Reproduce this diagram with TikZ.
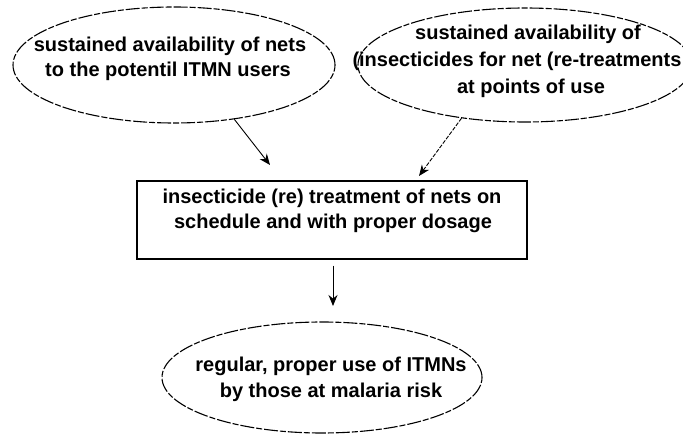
\documentclass[tikz,border=0pt]{standalone}
\usepackage{fontspec}
\setmainfont{Liberation Sans}
\usetikzlibrary{shapes.geometric,arrows.meta}
\tikzset{
  oval/.style={ellipse, draw, line width=1.1pt, inner sep=0pt,
    dash pattern=on 14pt off 2pt on 6pt off 2pt},
  stepbox/.style={rectangle, draw, line width=1.2pt, inner sep=0pt},
  txt/.style={anchor=base, inner sep=0pt, font=\bfseries\fontsize{20}{25}\selectfont},
  arr/.style={line width=0.9pt, -{Stealth[length=11pt,width=9pt]}},
}
\begin{document}
\begin{tikzpicture}[x=1pt,y=-1pt]
\useasboundingbox (0,0) rectangle (683,435);
% shapes
\node[oval, minimum width=322pt, minimum height=116pt] (e1) at (174,65) {};
\node[oval, minimum width=334pt, minimum height=114pt] (e2) at (525,65) {};
\node[stepbox, minimum width=390pt, minimum height=78pt] (b) at (332,220) {};
\node[oval, minimum width=320pt, minimum height=111pt] (e3) at (322,377.5) {};
% texts
\node[txt] (t1a) at (170,52) {sustained availability of nets};
\node[txt] (t1b) at (168,77) {to the potentil ITMN users};
\node[txt] (t2a) at (528,40) {sustained availability of};
\node[txt] (t2b) at (517,67) {(insecticides for net (re-treatments};
\node[txt] (t2c) at (531,94) {at points of use};
\node[txt] (t3a) at (332,204) {insecticide (re) treatment of nets on};
\node[txt] (t3b) at (333,229) {schedule and with proper dosage};
\node[txt] (t4a) at (331,372) {regular, proper use of ITMNs};
\node[txt] (t4b) at (331,398) {by those at malaria risk};
% arrow ends
\coordinate (p1) at (270,165);
\coordinate (p2) at (419,176);
\coordinate (p3) at (333,306);
% connectors
\draw[arr] (e1.-42) -- (p1);
\draw[arr, dash pattern=on 4pt off 1.5pt] (e2.220) -- (p2);
\draw[arr, shorten <=6pt] (b.south -| p3) -- (p3);
\end{tikzpicture}
\end{document}
